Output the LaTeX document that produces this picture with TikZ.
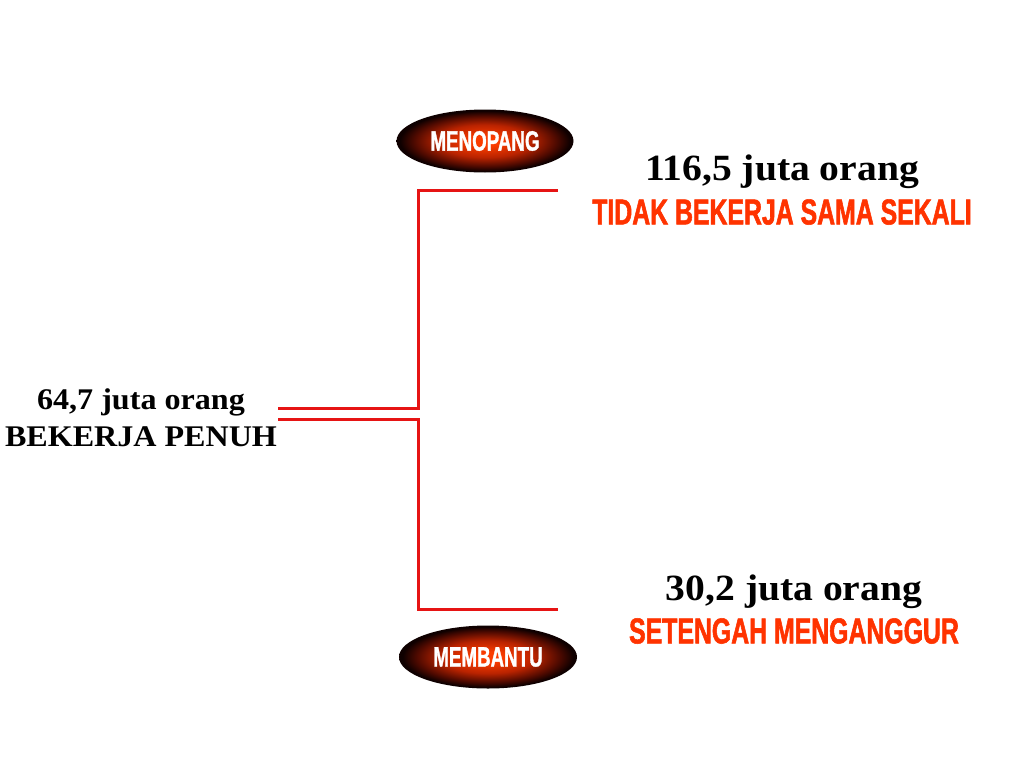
\documentclass[tikz,border=0pt]{standalone}
\usepackage{fontspec}
\setmainfont{Liberation Serif}
\newfontfamily\wideserif[FakeStretch=1.07]{Liberation Serif}
\newfontfamily\narrowsans[FakeStretch=0.67,FakeBold=1.2]{Liberation Sans}
\newfontfamily\statussans[FakeStretch=0.69,FakeBold=1.5]{Liberation Sans}
\usetikzlibrary{shapes.geometric}
\definecolor{linered}{RGB}{230,20,20}
\definecolor{labred}{RGB}{255,51,0}
\definecolor{gra}{RGB}{250,60,0}
\definecolor{grb}{RGB}{185,35,0}
\definecolor{grc}{RGB}{80,10,0}
\definecolor{grd}{RGB}{15,0,0}
\pgfdeclareradialshading{glow}{\pgfpoint{0bp}{0bp}}{color(0bp)=(gra); color(4bp)=(gra); color(13bp)=(grb); color(20bp)=(grc); color(24bp)=(grd); color(50bp)=(grd)}
\tikzset{
  conn/.style={draw=linered, line width=3pt},
  badge/.style={ellipse, shading=glow, minimum width=#1, minimum height=63pt, inner sep=0pt,
    text=white, font=\narrowsans\bfseries\fontsize{28}{30}\selectfont},
  count/.style={font=\wideserif\bfseries\fontsize{37}{40}\selectfont, text=black, inner sep=0pt},
  status/.style={font=\statussans\bfseries\fontsize{36}{38}\selectfont, text=labred, inner sep=0pt},
  left/.style={font=\wideserif\bfseries\fontsize{30}{32}\selectfont, text=black, inner sep=0pt, align=center},
}
\begin{document}
\begin{tikzpicture}[x=1pt,y=-1pt]
\useasboundingbox (0,0) rectangle (1024,768);
% ellipses
\node[badge=177pt] (menopang) at (485,141) {MENOPANG};
\node[badge=178pt] (membantu) at (488,657) {MEMBANTU};
% texts
\node[count] (top1) at (782,172) {116,5 juta orang};
\node[status] (top2) at (782,212) {TIDAK BEKERJA SAMA SEKALI};
\node[count] (bot1) at (794,592) {30,2 juta orang};
\node[status] (bot2) at (794,631) {SETENGAH MENGANGGUR};
\node[left] (l1) at (141,402) {64,7 juta orang};
\node[left] (l2) at (141,437) {BEKERJA PENUH};
% connectors
\coordinate (a1) at (278,408);
\coordinate (a2) at (278,419);
\coordinate (t) at (558,190);
\coordinate (b) at (558,609);
\draw[conn] (a1) -- (418,408) -- (418,190) -- (t);
\draw[conn] (a2) -- (418,419) -- (418,609) -- (b);
\end{tikzpicture}
\end{document}
